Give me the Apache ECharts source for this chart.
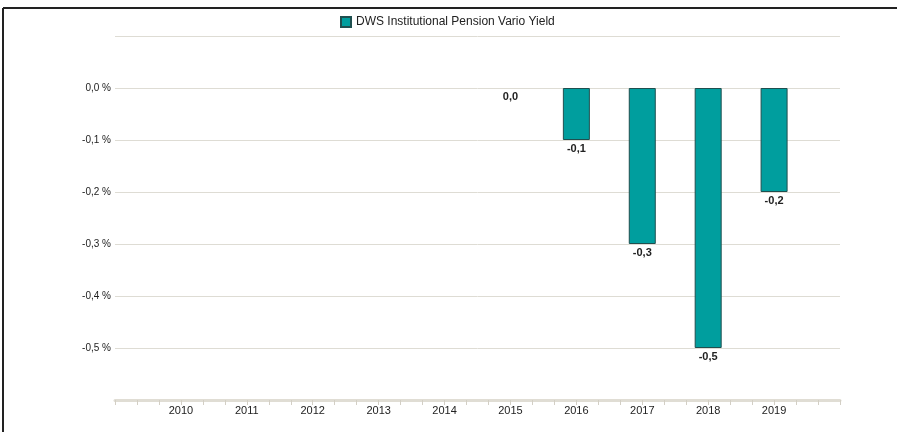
<!DOCTYPE html>
<html>
<head>
<meta charset="utf-8">
<script src="https://cdn.jsdelivr.net/npm/echarts@6/dist/echarts.min.js"></script>
<style>html,body{margin:0;padding:0;background:#fff;}#c{width:897px;height:432px;}</style>
</head>
<body>
<div id="c"></div>
<script>
var years = [2010, 2011, 2012, 2013, 2014, 2015, 2016, 2017, 2018, 2019];
var values = [null, null, null, null, null, 0.0, -0.1, -0.3, -0.5, -0.2];
var seriesName = 'DWS Institutional Pension Vario Yield';

function fmt(v) { return (Math.round(v * 10) / 10).toFixed(1).replace('.', ','); }

var chart = echarts.init(document.getElementById('c'));
chart.setOption({
  animation: false,
  textStyle: { fontFamily: 'Liberation Sans, Arial, sans-serif' },
  graphic: [
    { type: 'line', shape: { x1: 3, y1: 8, x2: 897, y2: 8 }, style: { stroke: '#222', lineWidth: 2 } },
    { type: 'line', shape: { x1: 3, y1: 8, x2: 3, y2: 432 }, style: { stroke: '#222', lineWidth: 2 } }
  ],
  legend: {
    top: 11, left: 335,
    itemWidth: 10, itemHeight: 10, itemGap: 5,
    icon: 'rect',
    textStyle: { fontSize: 12, color: '#222' },
    data: [seriesName]
  },
  grid: { left: 115, right: 57, top: 36, bottom: 32 },
  xAxis: {
    type: 'value', min: 2009, max: 2020, interval: 1,
    axisLine: { onZero: false, lineStyle: { color: '#e0ddd4', width: 3 } },
    axisTick: { show: true, length: 5, lineStyle: { color: '#d3cfc5' } },
    minorTick: { show: true, splitNumber: 3, length: 5, lineStyle: { color: '#d3cfc5' } },
    splitLine: { show: false },
    axisLabel: {
      fontSize: 11, color: '#222', margin: 5,
      formatter: function (v) { return (v === 2009 || v === 2020) ? '' : String(v); }
    }
  },
  yAxis: {
    type: 'value', min: -0.6, max: 0.1, interval: 0.1,
    axisLine: { show: false }, axisTick: { show: false },
    splitLine: { lineStyle: { color: '#dedcd4', width: 1 } },
    axisLabel: {
      fontSize: 10, color: '#222', margin: 4,
      formatter: function (v) {
        var r = Math.round(v * 10) / 10;
        if (r > 0.05 || r < -0.55) return '';
        return fmt(r) + ' %';
      }
    }
  },
  series: [{
    name: seriesName, type: 'bar', barWidth: 27,
    data: years.map(function (y, i) {
      return { value: [y, values[i]], itemStyle: values[i] === 0 ? { borderWidth: 0, color: 'rgba(0,0,0,0)' } : undefined };
    }).filter(function (d) { return d.value[1] !== null; }),
    itemStyle: { color: '#009e9e', borderColor: '#1f4f4f', borderWidth: 1 },
    label: {
      show: true, position: 'bottom', distance: 3,
      fontSize: 11, fontWeight: 'bold', color: '#222',
      formatter: function (p) { return fmt(p.value[1]); }
    }
  }]
});
</script>
</body>
</html>
